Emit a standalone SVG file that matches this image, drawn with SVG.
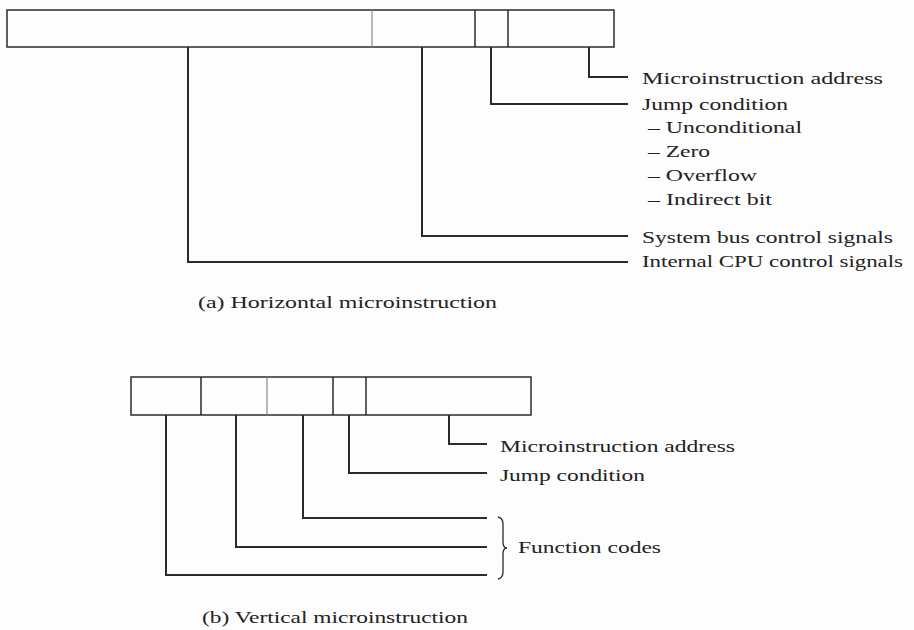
<svg xmlns="http://www.w3.org/2000/svg" width="914" height="630" viewBox="0 0 914 630">
<style>
.bar{fill:none;stroke:#2b2b2b;stroke-width:1.5}
.div{stroke:#2b2b2b;stroke-width:1.5}
.divl{stroke:#8a8a8a;stroke-width:1.2}
.con{fill:none;stroke:#2b2b2b;stroke-width:2}
.lbl{font-family:"Liberation Serif","Times New Roman",serif;font-size:16px;fill:#222}
</style>
<rect width="914" height="630" fill="#fdfdfd"/>
<g id="horizontal-word">
<rect class="bar" x="7" y="10" width="607" height="37"/>
<line class="divl" x1="372" y1="10" x2="372" y2="47"/>
<line class="div" x1="475" y1="10" x2="475" y2="47"/>
<line class="div" x1="508" y1="10" x2="508" y2="47"/>
</g>
<g id="vertical-word">
<rect class="bar" x="131" y="377" width="400" height="38"/>
<line class="div" x1="201" y1="377" x2="201" y2="415"/>
<line class="divl" x1="267" y1="377" x2="267" y2="415"/>
<line class="div" x1="333" y1="377" x2="333" y2="415"/>
<line class="div" x1="366" y1="377" x2="366" y2="415"/>
</g>
<g id="connectors">
<path class="con" d="M589,47 V77 H628"/>
<path class="con" d="M491,47 V104 H628"/>
<path class="con" d="M422,47 V236 H628"/>
<path class="con" d="M188,47 V262 H628"/>
<path class="con" d="M449,415 V444 H487"/>
<path class="con" d="M349,415 V473 H487"/>
<path class="con" d="M303,415 V518 H487"/>
<path class="con" d="M236,415 V547 H487"/>
<path class="con" d="M166,415 V575 H487"/>
<path fill="none" stroke="#2b2b2b" stroke-width="1.3" d="M498,517 Q503,518 503,524 L503,542 Q503,548 507,548 Q503,548 503,554 L503,572 Q503,578 498,579"/>
</g>
<g id="labels-a">
<text class="lbl" x="642" y="84" textLength="241" lengthAdjust="spacingAndGlyphs">Microinstruction address</text>
<text class="lbl" x="642" y="110" textLength="146" lengthAdjust="spacingAndGlyphs">Jump condition</text>
<text class="lbl" x="648" y="133" textLength="154" lengthAdjust="spacingAndGlyphs">– Unconditional</text>
<text class="lbl" x="648" y="157" textLength="62" lengthAdjust="spacingAndGlyphs">– Zero</text>
<text class="lbl" x="648" y="181" textLength="109" lengthAdjust="spacingAndGlyphs">– Overflow</text>
<text class="lbl" x="648" y="205" textLength="124" lengthAdjust="spacingAndGlyphs">– Indirect bit</text>
<text class="lbl" x="642" y="243" textLength="251" lengthAdjust="spacingAndGlyphs">System bus control signals</text>
<text class="lbl" x="642" y="267" textLength="261" lengthAdjust="spacingAndGlyphs">Internal CPU control signals</text>
<text class="lbl" x="198" y="308" textLength="299" lengthAdjust="spacingAndGlyphs">(a) Horizontal microinstruction</text>
</g>
<g id="labels-b">
<text class="lbl" x="500" y="452" textLength="235" lengthAdjust="spacingAndGlyphs">Microinstruction address</text>
<text class="lbl" x="500" y="481" textLength="145" lengthAdjust="spacingAndGlyphs">Jump condition</text>
<text class="lbl" x="518" y="553" textLength="143" lengthAdjust="spacingAndGlyphs">Function codes</text>
<text class="lbl" x="202" y="623" textLength="266" lengthAdjust="spacingAndGlyphs">(b) Vertical microinstruction</text>
</g>
</svg>
